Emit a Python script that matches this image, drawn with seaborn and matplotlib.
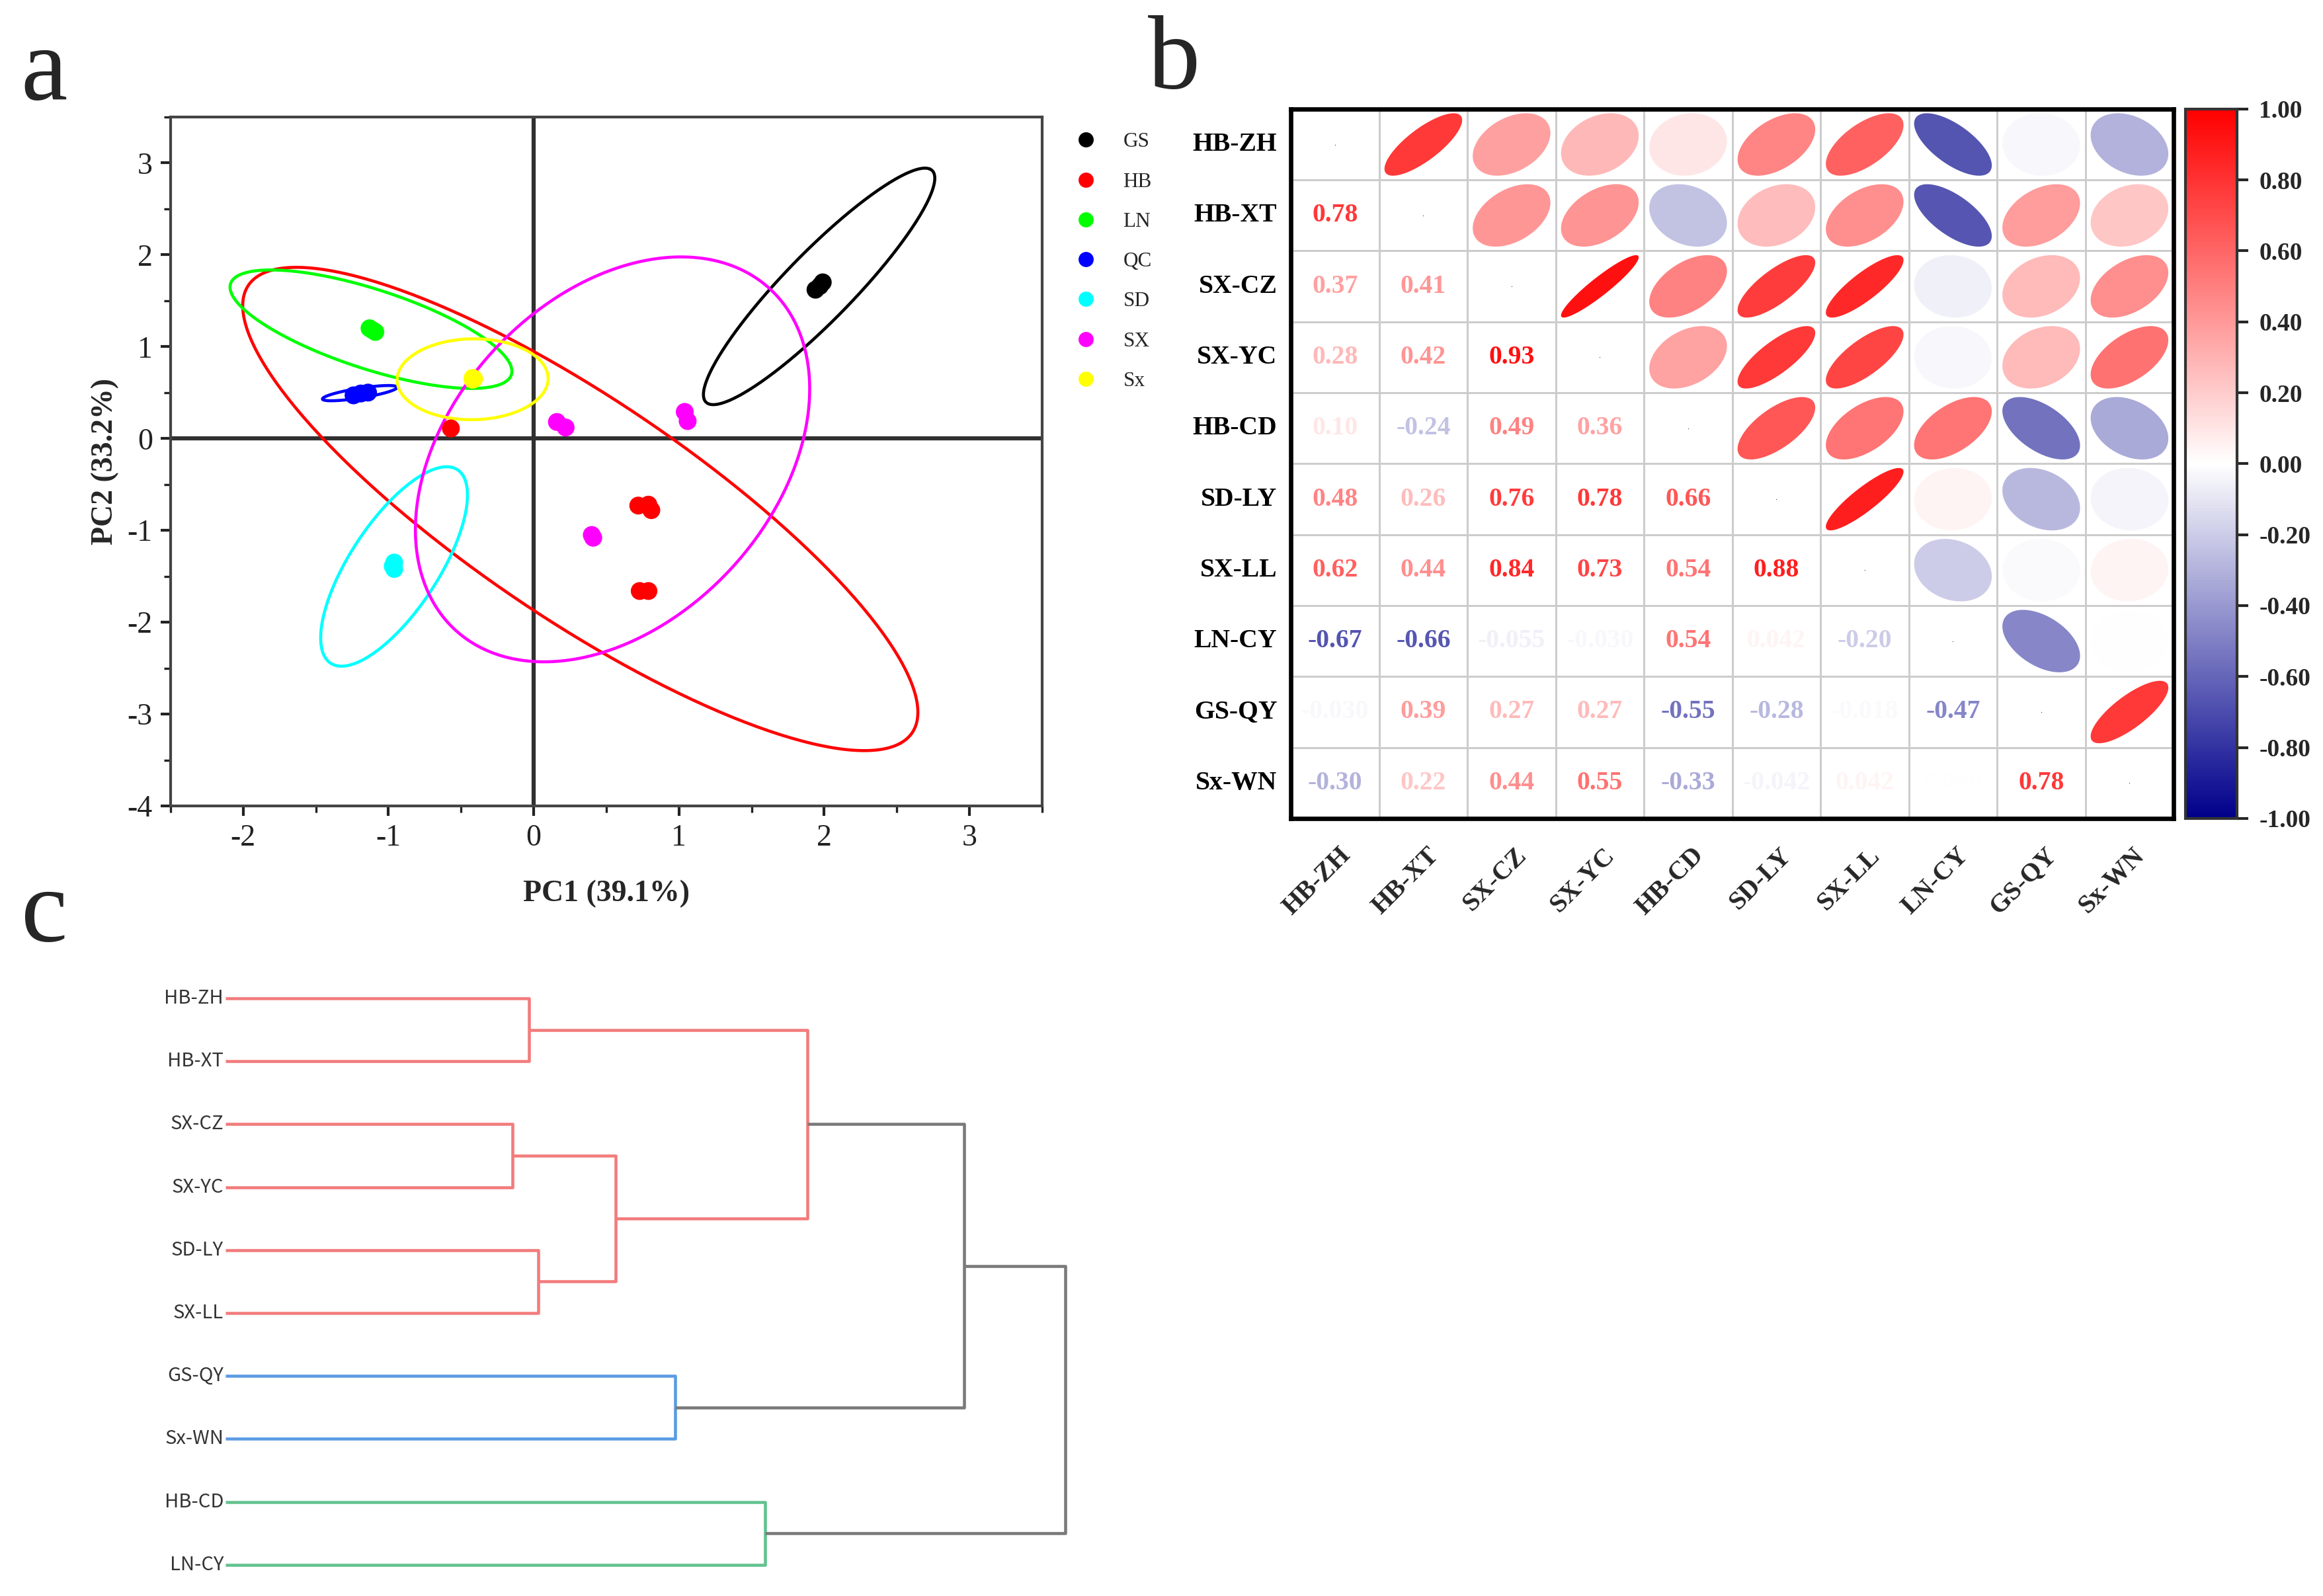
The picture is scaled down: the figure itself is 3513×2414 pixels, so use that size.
import numpy as np
import pandas as pd
import matplotlib
matplotlib.use('Agg')
import matplotlib.pyplot as plt
import matplotlib.transforms as mtransforms
import seaborn as sns
from matplotlib.colors import LinearSegmentedColormap, ListedColormap, Normalize
from matplotlib.patches import Polygon
from matplotlib.ticker import MultipleLocator

# ---------------- panel a : PCA scores ----------------
groups = ['GS', 'HB', 'LN', 'QC', 'SD', 'SX', 'Sx']
group_colors = ['#000000', '#FF0000', '#00FF00', '#0000FF', '#00FFFF', '#FF00FF', '#FFFF00']

pc_group = ['GS'] * 3 + ['HB'] * 6 + ['LN'] * 3 + ['QC'] * 3 + ['SD'] * 3 + ['SX'] * 6 + ['Sx'] * 3
pc1 = [1.94, 1.97, 1.99,
       -0.57, 0.72, 0.79, 0.81, 0.73, 0.79,
       -1.13, -1.11, -1.09,
       -1.24, -1.19, -1.14,
       -0.96, -0.97, -0.96,
       0.16, 0.22, 0.40, 0.41, 1.04, 1.06,
       -0.42, -0.41, -0.42]
pc2 = [1.62, 1.66, 1.70,
       0.11, -0.73, -0.72, -0.78, -1.66, -1.66,
       1.20, 1.18, 1.16,
       0.47, 0.49, 0.50,
       -1.35, -1.39, -1.42,
       0.18, 0.12, -1.05, -1.08, 0.29, 0.19,
       0.64, 0.65, 0.66]

# confidence ellipses per group: centre, semi-axes, rotation (deg)
ell_cx = [1.965, 0.321, -1.12, -1.197, -0.961, 0.543, -0.42]
ell_cy = [1.656, -0.767, 1.19, 0.494, -1.393, -0.227, 0.645]
ell_a = [1.488, 3.370, 1.093, 0.265, 1.150, 2.276, 0.52]
ell_b = [0.278, 0.981, 0.403, 0.052, 0.333, 1.232, 0.44]
ell_ang = [59.3, -49.2, -29.7, 14.4, 69.8, 72.7, 3.0]

# ---------------- panel b : correlation matrix ----------------
corr_labels = ['HB-ZH', 'HB-XT', 'SX-CZ', 'SX-YC', 'HB-CD', 'SD-LY', 'SX-LL', 'LN-CY', 'GS-QY', 'Sx-WN']
corr_lower = [
    [],
    [0.78],
    [0.37, 0.41],
    [0.28, 0.42, 0.93],
    [0.10, -0.24, 0.49, 0.36],
    [0.48, 0.26, 0.76, 0.78, 0.66],
    [0.62, 0.44, 0.84, 0.73, 0.54, 0.88],
    [-0.67, -0.66, -0.055, -0.030, 0.54, 0.042, -0.20],
    [-0.030, 0.39, 0.27, 0.27, -0.55, -0.28, -0.018, -0.47],
    [-0.30, 0.22, 0.44, 0.55, -0.33, -0.042, 0.042, 0.0, 0.78],
]

# ---------------- panel c : dendrogram ----------------
leaf_labels = ['HB-ZH', 'HB-XT', 'SX-CZ', 'SX-YC', 'SD-LY', 'SX-LL', 'GS-QY', 'Sx-WN', 'HB-CD', 'LN-CY']
merge_left = [0, 2, 4, 11, 10, 6, 14, 8, 16]
merge_right = [1, 3, 5, 12, 13, 7, 15, 9, 17]
merge_height = [4.59, 4.34, 4.73, 5.90, 8.80, 6.80, 11.17, 8.16, 12.70]
merge_color = ['#F27C7C'] * 5 + ['#5B9BE3', '#7A7A7A', '#62C28E', '#7A7A7A']

sns.set_theme(style='white')
plt.rcParams['font.family'] = ['Liberation Serif', 'DejaVu Serif']
plt.rcParams['axes.unicode_minus'] = False

fig = plt.figure(figsize=(3513 / 300, 2414 / 300), dpi=300)

# ===== panel a =====
axa = fig.add_axes([0.0734, 0.495, 0.3752, 0.4317])
t = np.linspace(0, 2 * np.pi, 300)
for k in range(len(groups)):
    th = np.deg2rad(ell_ang[k])
    ex = ell_cx[k] + ell_a[k] * np.cos(t) * np.cos(th) - ell_b[k] * np.sin(t) * np.sin(th)
    ey = ell_cy[k] + ell_a[k] * np.cos(t) * np.sin(th) + ell_b[k] * np.sin(t) * np.cos(th)
    axa.plot(ex, ey, color=group_colors[k], lw=1.1, zorder=2)

axa.axhline(0, color='#303030', lw=1.5, zorder=1)
axa.axvline(0, color='#303030', lw=1.5, zorder=1)

pca_df = pd.DataFrame({'PC1': pc1, 'PC2': pc2, 'group': pc_group})
sns.scatterplot(data=pca_df, x='PC1', y='PC2', hue='group', hue_order=groups,
                palette=group_colors, s=42, edgecolor='none', linewidth=0, ax=axa, zorder=3)

axa.set_xlim(-2.5, 3.5)
axa.set_ylim(-4, 3.5)
axa.xaxis.set_major_locator(MultipleLocator(1))
axa.xaxis.set_minor_locator(MultipleLocator(0.5))
axa.yaxis.set_major_locator(MultipleLocator(1))
axa.yaxis.set_minor_locator(MultipleLocator(0.5))
axa.tick_params(which='major', direction='out', length=3.5, width=1, bottom=True, left=True,
                labelsize=11, colors='#222222', pad=3)
axa.tick_params(which='minor', direction='out', length=2.5, width=0.8, bottom=True, left=True,
                colors='#222222')
for s in axa.spines.values():
    s.set_color('#444444')
    s.set_linewidth(1.0)
axa.set_xlabel('PC1 (39.1%)', fontsize=11, fontweight='bold', labelpad=10)
axa.set_ylabel('PC2 (33.2%)', fontsize=11, fontweight='bold', labelpad=3)

handles, labels = axa.get_legend_handles_labels()
for h in handles:
    h.set_markersize(5.5)
axa.legend(handles, labels, loc='upper left', bbox_to_anchor=(0.4586, 0.917),
           bbox_transform=fig.transFigure, frameon=False, fontsize=7.5,
           borderaxespad=0, borderpad=0, labelspacing=1.0, handletextpad=0.8)

# ===== panel b =====
n = len(corr_labels)
corr = np.eye(n)
for i in range(n):
    for j, v in enumerate(corr_lower[i]):
        corr[i, j] = v
        corr[j, i] = v
corr_df = pd.DataFrame(corr, index=corr_labels, columns=corr_labels)

cmap = LinearSegmentedColormap.from_list('bwr_corr', ['#00008B', '#FFFFFF', '#FF0000'])
norm = Normalize(-1, 1)

axb = fig.add_axes([0.5557, 0.4872, 0.3800, 0.4445])
sns.heatmap(corr_df, ax=axb, cmap=ListedColormap(['white']), cbar=False,
            linewidths=0.6, linecolor='#cccccc', xticklabels=False, yticklabels=corr_labels)
for s in axb.spines.values():
    s.set_visible(True)
    s.set_color('black')
    s.set_linewidth(1.6)
axb.tick_params(axis='y', length=0, pad=5)
for lab in axb.get_yticklabels():
    lab.set_rotation(0)
    lab.set_fontweight('bold')
    lab.set_fontsize(9.5)
    lab.set_color('black')

tt = np.linspace(0, 2 * np.pi, 120)


def fmt(v):
    return '%.2f' % v if abs(v) >= 0.1 else '%.3f' % v


for i in range(n):
    for j in range(n):
        r = corr[i, j]
        if j > i:
            d = np.arccos(np.clip(r, -1, 1))
            ex = np.cos(tt + d / 2) / 2
            ey = np.cos(tt - d / 2) / 2
            pts = np.column_stack([j + 0.5 + 0.88 * ex, i + 0.5 - 0.88 * ey])
            axb.add_patch(Polygon(pts, closed=True, facecolor=cmap(norm(r)), edgecolor='none'))
        elif j < i:
            axb.text(j + 0.5, i + 0.5, fmt(r), ha='center', va='center',
                     color=cmap(norm(r)), fontsize=9.5, fontweight='bold')
        else:
            axb.plot(j + 0.5, i + 0.5, marker='o', ms=0.3, mew=0, color='#333333')

trans = mtransforms.blended_transform_factory(axb.transData, axb.transAxes)
for j, lab in enumerate(corr_labels):
    axb.text(j + 0.73, -0.035, lab, transform=trans, rotation=45, ha='right', va='top',
             fontsize=9.5, fontweight='bold')

cax = fig.add_axes([0.9408, 0.4872, 0.0222, 0.4445])
sm = matplotlib.cm.ScalarMappable(norm=norm, cmap=cmap)
cb = fig.colorbar(sm, cax=cax)
cb_ticks = np.linspace(-1, 1, 11)
cb.set_ticks(cb_ticks)
cb.set_ticklabels(['%.2f' % (v + 0.0) if abs(v) > 1e-9 else '0.00' for v in cb_ticks])
cb.outline.set_linewidth(1.0)
cb.outline.set_edgecolor('#333333')
cax.tick_params(length=4, width=1, labelsize=9, pad=4, right=True)
for lab in cax.get_yticklabels():
    lab.set_fontweight('bold')

# ===== panel c =====
axc = fig.add_axes([0.0971, 0.0195, 0.3615, 0.355])
pos = {i: float(i) for i in range(len(leaf_labels))}
hgt = {i: 0.0 for i in range(len(leaf_labels))}
for k in range(len(merge_left)):
    l, r, h = merge_left[k], merge_right[k], merge_height[k]
    axc.plot([hgt[l], h, h, hgt[r]], [pos[l], pos[l], pos[r], pos[r]],
             color=merge_color[k], lw=1.1, clip_on=False, solid_capstyle='butt')
    new = len(leaf_labels) + k
    pos[new] = (pos[l] + pos[r]) / 2
    hgt[new] = h
for i, lab in enumerate(leaf_labels):
    axc.text(-0.03, i, lab, ha='right', va='center', fontsize=7, color='#333333',
             family=['Noto Sans CJK SC', 'DejaVu Sans'])
axc.set_xlim(0, 12.70)
axc.set_ylim(9, 0)
axc.axis('off')

# panel letters
fig.text(67 / 3513, 1 - 112 / 2414, 'a', fontsize=38, ha='center', va='center')
fig.text(1776 / 3513, 1 - 95 / 2414, 'b', fontsize=38, ha='center', va='center')
fig.text(67 / 3513, 1 - 1385 / 2414, 'c', fontsize=38, ha='center', va='center')

fig.savefig('out.png', dpi=300)
